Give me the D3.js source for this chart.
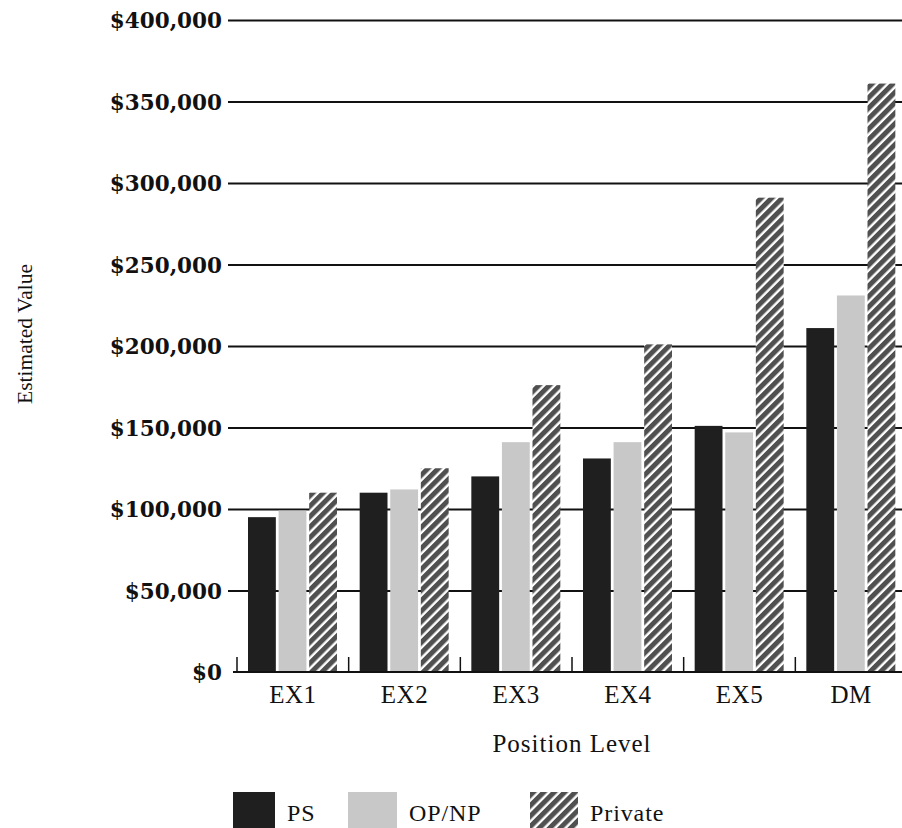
<!DOCTYPE html>
<html>
<head>
<meta charset="utf-8">
<script src="https://cdn.jsdelivr.net/npm/d3@7"></script>
<style>
  html, body { margin: 0; padding: 0; background: #fff; }
  svg { display: block; }
  .serif { font-family: "Liberation Serif", "Times New Roman", serif; }
</style>
</head>
<body>
<svg id="chart" width="902" height="828"></svg>
<script>
// Position levels along the x axis
const categories = ["EX1", "EX2", "EX3", "EX4", "EX5", "DM"];
// Compensation sectors
const seriesNames = ["PS", "OP/NP", "Private"];
// Estimated value per level, one array per sector
const psValues      = [95000, 110000, 120000, 131000, 151000, 211000];
const opnpValues    = [99000, 112000, 141000, 141000, 147000, 231000];
const privateValues = [110000, 125000, 176000, 201000, 291000, 361000];
// Y axis ticks
const yTicks = [0, 50000, 100000, 150000, 200000, 250000, 300000, 350000, 400000];
const yAxisTitle = "Estimated Value";
const xAxisTitle = "Position Level";

const seriesValues = [psValues, opnpValues, privateValues];
const table = categories.map((c, i) => ({
  cat: c,
  vals: seriesNames.map((s, j) => ({ key: s, value: seriesValues[j][i] }))
}));

const svg = d3.select("#chart");
const W = 902, H = 828;
const plotLeft = 237, plotRight = 907, plotTop = 20, plotBottom = 672;

const defs = svg.append("defs");
const hatch = defs.append("pattern")
  .attr("id", "hatch")
  .attr("patternUnits", "userSpaceOnUse")
  .attr("width", 7.4).attr("height", 7.4)
  .attr("patternTransform", "rotate(45)");
hatch.append("rect").attr("width", 7.4).attr("height", 7.4).attr("fill", "#fff");
hatch.append("rect").attr("width", 5.0).attr("height", 7.4).attr("fill", "#505050");

const fills = { "PS": "#1f1f1f", "OP/NP": "#c8c8c8", "Private": "url(#hatch)" };

const x0 = d3.scaleBand().domain(categories).range([plotLeft, plotRight]).padding(0);
const x1 = d3.scaleBand().domain(seriesNames).range([11, 100]).paddingInner(0.09);
const y = d3.scaleLinear().domain([0, 400000]).range([plotBottom, plotTop]);

// Horizontal grid lines with short ticks on the left
const yAxis = svg.append("g")
  .attr("transform", `translate(${plotLeft},0)`)
  .call(d3.axisLeft(y).tickValues(yTicks.slice(1)).tickSize(9).tickFormat(""));
yAxis.select(".domain").remove();
yAxis.selectAll(".tick line")
  .attr("x1", -9).attr("x2", W - plotLeft)
  .attr("stroke", "#111").attr("stroke-width", 2);

// Tick labels
const labelAxis = svg.append("g")
  .attr("transform", `translate(${plotLeft - 15},0)`)
  .call(d3.axisLeft(y).tickValues(yTicks).tickSize(0).tickPadding(0)
    .tickFormat(d => "$" + d3.format(",")(d)));
labelAxis.select(".domain").remove();
labelAxis.selectAll(".tick text")
  .attr("font-family", "'DejaVu Serif', serif")
  .attr("font-weight", "bold")
  .attr("font-size", 21.5)
  .attr("fill", "#111")
  .attr("dy", "0.36em");

// Bars
const groups = svg.append("g").selectAll("g")
  .data(table).join("g")
  .attr("transform", d => `translate(${x0(d.cat)},0)`);
groups.selectAll("rect")
  .data(d => d.vals).join("rect")
  .attr("x", d => x1(d.key))
  .attr("width", x1.bandwidth())
  .attr("y", d => y(d.value))
  .attr("height", d => y(0) - y(d.value))
  .attr("fill", d => fills[d.key]);

// X axis baseline with upward ticks at group boundaries
const xAxis = svg.append("g").attr("transform", `translate(0,${plotBottom})`);
xAxis.append("line")
  .attr("x1", plotLeft - 4).attr("x2", W)
  .attr("stroke", "#111").attr("stroke-width", 2);
xAxis.selectAll("line.bound")
  .data(categories).join("line")
  .attr("class", "bound")
  .attr("x1", d => x0(d)).attr("x2", d => x0(d))
  .attr("y1", 0).attr("y2", -15)
  .attr("stroke", "#111").attr("stroke-width", 1.5);
xAxis.selectAll("text")
  .data(categories).join("text")
  .attr("class", "serif")
  .attr("x", d => x0(d) + x0.bandwidth() / 2)
  .attr("y", 31)
  .attr("text-anchor", "middle")
  .attr("font-size", 25)
  .attr("letter-spacing", 0.5)
  .attr("fill", "#111")
  .text(d => d);

// Axis titles
svg.append("text")
  .attr("class", "serif")
  .attr("x", 572).attr("y", 752)
  .attr("text-anchor", "middle")
  .attr("font-size", 25)
  .attr("letter-spacing", 1)
  .attr("fill", "#111")
  .text(xAxisTitle);

svg.append("text")
  .attr("class", "serif")
  .attr("transform", "translate(32,334) rotate(-90)")
  .attr("text-anchor", "middle")
  .attr("font-size", 21.5)
  .attr("fill", "#111")
  .text(yAxisTitle);

// Legend
const legendX = [233, 348, 530];
const swatchW = [42, 49, 48];
const legend = svg.append("g").selectAll("g")
  .data(seriesNames).join("g")
  .attr("transform", (d, i) => `translate(${legendX[i]},792)`);
legend.append("rect")
  .attr("width", (d, i) => swatchW[i])
  .attr("height", 40)
  .attr("fill", d => fills[d]);
legend.append("text")
  .attr("class", "serif")
  .attr("x", (d, i) => swatchW[i] + 12)
  .attr("y", 29)
  .attr("font-size", 24)
  .attr("letter-spacing", 0.9)
  .attr("fill", "#111")
  .text(d => d);
</script>
</body>
</html>
